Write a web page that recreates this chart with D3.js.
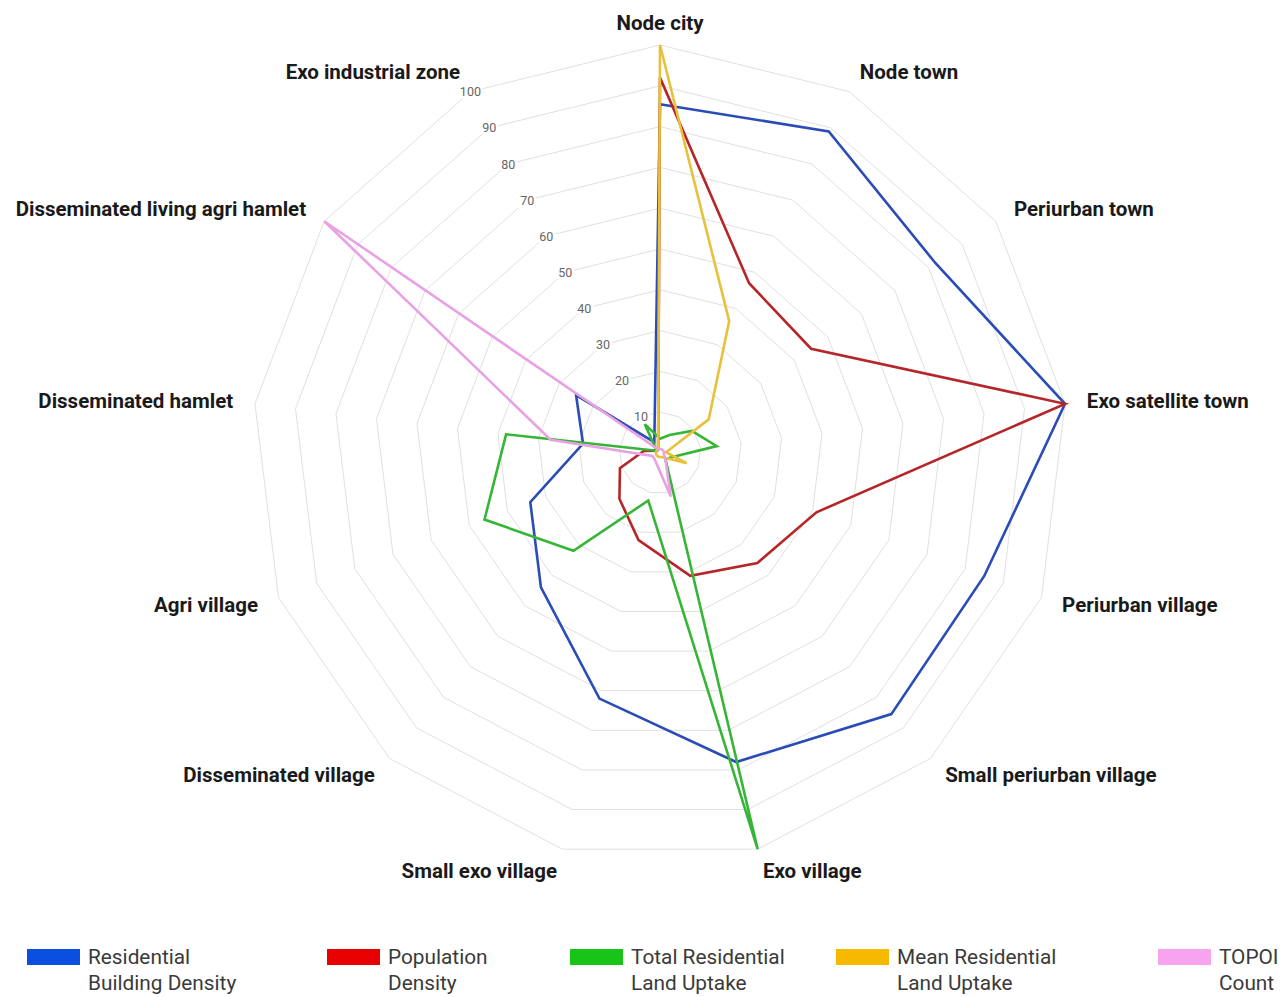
<!DOCTYPE html>
<html>
<head>
<meta charset="utf-8">
<script src="https://cdn.jsdelivr.net/npm/d3@7"></script>
<style>
  body { margin: 0; background: #fff; }
  svg { display: block; font-family: Roboto, "Noto Sans", sans-serif; }
</style>
</head>
<body>
<div id="chart"></div>
<script>
// axis categories, clockwise from the top
const categories = ["Node city", "Node town", "Periurban town", "Exo satellite town",
  "Periurban village", "Small periurban village", "Exo village", "Small exo village",
  "Disseminated village", "Agri village", "Disseminated hamlet",
  "Disseminated living agri hamlet", "Exo industrial zone"];

// series values (0-100), one per category
const residentialBuildingDensity = [85.5, 89, 82, 100, 85, 85.5, 78, 62, 44, 34, 19, 25, 3];
const populationDensity          = [92, 47, 45, 100, 41, 36, 31, 22, 15, 10.5, 4, 1, 1];
const totalResidentialUptake     = [3.5, 5, 9.5, 14, 3, 2, 100, 12, 32, 46, 38, 1, 8];
const meanResidentialUptake      = [100, 36.5, 14.5, 1.5, 7, 1.5, 1, 1, 1, 1, 1, 1, 1];
const topoiCount                 = [1, 1, 1, 1, 1, 2, 11, 3, 2, 2, 27, 100, 1];

const seriesNames = [["Residential", "Building Density"], ["Population", "Density"],
  ["Total Residential", "Land Uptake"], ["Mean Residential", "Land Uptake"], ["TOPOI", "Count"]];

const tickValues = [10, 20, 30, 40, 50, 60, 70, 80, 90, 100];

const width = 1284, height = 997;
const cx = 660, cy = 453, radius = 408;

const lineColors = ["#2a4cb6", "#b62628", "#36b536", "#e8c13c", "#e8a2e4"];
const swatchColors = ["#0b4fe0", "#e60000", "#19c419", "#f7b900", "#f7a3ef"];
const legendX = [27, 327, 570, 836, 1158];

const series = [residentialBuildingDensity, populationDensity, totalResidentialUptake,
  meanResidentialUptake, topoiCount];

const svg = d3.select("#chart").append("svg")
  .attr("width", width)
  .attr("height", height);

const g = svg.append("g").attr("transform", `translate(${cx},${cy})`);

const r = d3.scaleLinear().domain([0, 100]).range([0, radius]);
const angle = d3.scaleLinear().domain([0, categories.length]).range([0, 2 * Math.PI]);

function pt(i, v) {
  const a = angle(i);
  return [Math.sin(a) * r(v), -Math.cos(a) * r(v)];
}

const radial = d3.lineRadial()
  .angle((d, i) => angle(i))
  .radius(d => r(d))
  .curve(d3.curveLinearClosed);

// grid rings
g.append("g").selectAll("path")
  .data(tickValues).enter()
  .append("path")
    .attr("d", t => radial(categories.map(() => t)))
    .attr("fill", "none")
    .attr("stroke", "#e0e0e0")
    .attr("stroke-width", 1);

// series lines
g.append("g").selectAll("path")
  .data(series).enter()
  .append("path")
    .attr("d", d => radial(d))
    .attr("fill", "none")
    .attr("stroke", (d, i) => lineColors[i])
    .attr("stroke-width", 2.6)
    .attr("stroke-linejoin", "miter");

// tick labels along the last axis
g.append("g").selectAll("text")
  .data(tickValues).enter()
  .append("text")
    .attr("x", t => pt(categories.length - 1, t)[0])
    .attr("y", t => pt(categories.length - 1, t)[1])
    .attr("text-anchor", "middle")
    .attr("dominant-baseline", "central")
    .attr("font-size", 12.5)
    .attr("fill", "#666")
    .attr("stroke", "#fff")
    .attr("stroke-width", 5)
    .attr("paint-order", "stroke")
    .text(t => t);

// category labels
g.append("g").selectAll("text")
  .data(categories).enter()
  .append("text")
    .attr("x", (d, i) => pt(i, 100)[0] + Math.sin(angle(i)) * 22)
    .attr("y", (d, i) => pt(i, 100)[1] - Math.cos(angle(i)) * 22)
    .attr("text-anchor", (d, i) => {
      const s = Math.sin(angle(i));
      return s > 0.01 ? "start" : s < -0.01 ? "end" : "middle";
    })
    .attr("dominant-baseline", "central")
    .attr("font-size", 20.5)
    .attr("font-weight", 700)
    .attr("fill", "#1a1a1a")
    .text(d => d);

// legend
const legend = svg.append("g").selectAll("g")
  .data(seriesNames).enter()
  .append("g")
    .attr("transform", (d, i) => `translate(${legendX[i]},949)`);

legend.append("rect")
  .attr("width", 53)
  .attr("height", 16)
  .attr("fill", (d, i) => swatchColors[i]);

legend.append("text")
  .attr("x", 61)
  .attr("y", 8)
  .attr("dominant-baseline", "central")
  .attr("font-size", 20.8)
  .attr("fill", "#3a3a3a")
  .text(d => d[0]);

legend.append("text")
  .attr("x", 61)
  .attr("y", 34)
  .attr("dominant-baseline", "central")
  .attr("font-size", 20.8)
  .attr("fill", "#3a3a3a")
  .text(d => d[1]);
</script>
</body>
</html>
